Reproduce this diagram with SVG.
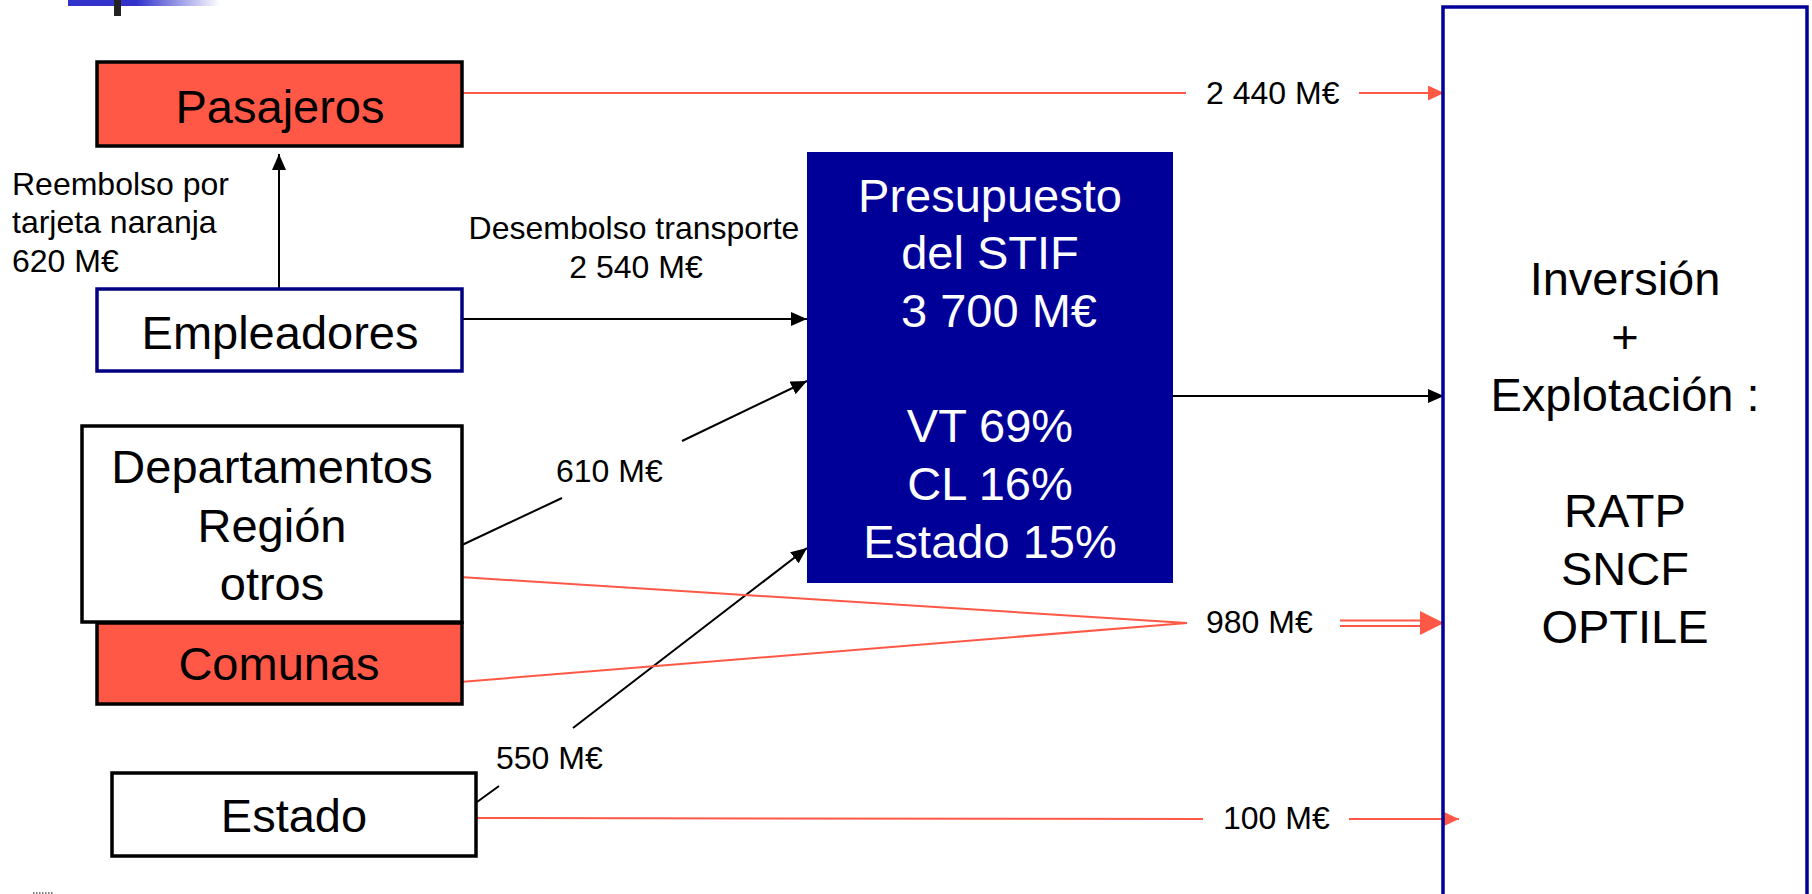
<svg xmlns="http://www.w3.org/2000/svg" width="1812" height="894" viewBox="0 0 1812 894">
<style>
text{font-family:"Liberation Sans",Arial,sans-serif;fill:#000}
.big{font-size:47px}
.mid{font-size:32px}
.w{fill:#fff}
.red{fill:#FF5846}
.k{stroke:#000;stroke-width:2;fill:none}
.r{stroke:#FF5846;stroke-width:2;fill:none}
</style>
<defs>
<linearGradient id="gb" x1="0" x2="1" y1="0" y2="0">
<stop offset="0" stop-color="#3333CC"/>
<stop offset="0.45" stop-color="#3333CC"/>
<stop offset="1" stop-color="#3333CC" stop-opacity="0"/>
</linearGradient>
<marker id="ak" markerUnits="userSpaceOnUse" markerWidth="16" markerHeight="14" refX="16" refY="7" orient="auto">
<path d="M0,0 L16,7 L0,14 z" fill="#000"/>
</marker>
<marker id="ar" markerUnits="userSpaceOnUse" markerWidth="16" markerHeight="15" refX="16" refY="7.5" orient="auto">
<path d="M0,0 L16,7.5 L0,15 z" fill="#FF5846"/>
</marker>
</defs>

<g id="decor">
<rect x="68" y="0" width="152" height="6" fill="url(#gb)"/>
<rect x="114" y="0" width="7" height="16" fill="#222"/>
<line x1="33" y1="893" x2="53" y2="893" stroke="#000" stroke-width="1" stroke-dasharray="1.5,1.5"/>
</g>

<g id="connectors">
<line class="k" x1="279" y1="290" x2="279" y2="154" marker-end="url(#ak)"/>
<line class="r" x1="462" y1="93" x2="1186" y2="93"/>
<line class="r" x1="1359" y1="93" x2="1444" y2="93" marker-end="url(#ar)"/>
<line class="k" x1="462" y1="319" x2="807" y2="319" marker-end="url(#ak)"/>
<line class="k" x1="462" y1="545" x2="562" y2="498"/>
<line class="k" x1="682" y1="441" x2="807" y2="381" marker-end="url(#ak)"/>
<line class="k" x1="477" y1="802" x2="499" y2="786"/>
<line class="k" x1="573" y1="728" x2="807" y2="548" marker-end="url(#ak)"/>
<line class="k" x1="1173" y1="396" x2="1444" y2="396" marker-end="url(#ak)"/>
<line class="r" x1="460" y1="577" x2="1187" y2="623"/>
<line class="r" x1="460" y1="682" x2="1187" y2="623"/>
<line class="r" x1="1340" y1="620.5" x2="1422" y2="620.5"/>
<line class="r" x1="1340" y1="626" x2="1422" y2="626"/>
<polygon points="1420,611 1444,623 1420,635" fill="#FF5846"/>
<line class="r" x1="477" y1="818" x2="1203" y2="819"/>
<line class="r" x1="1349" y1="819" x2="1459" y2="819" marker-end="url(#ar)"/>
</g>

<g id="labels">
<text class="mid" x="12" y="195">Reembolso por</text>
<text class="mid" x="12" y="233">tarjeta naranja</text>
<text class="mid" x="12" y="272">620 M€</text>
<text class="mid" x="634" y="239" text-anchor="middle">Desembolso transporte</text>
<text class="mid" x="636" y="278" text-anchor="middle">2 540 M€</text>
<text class="mid" x="556" y="482">610 M€</text>
<text class="mid" x="496" y="769">550 M€</text>
<text class="mid" x="1206" y="104">2 440 M€</text>
<text class="mid" x="1206" y="633">980 M€</text>
<text class="mid" x="1223" y="829">100 M€</text>
</g>

<g id="pasajeros">
<rect x="97" y="62" width="365" height="84" class="red" stroke="#000" stroke-width="3.5"/>
<text class="big" x="280" y="123" text-anchor="middle">Pasajeros</text>
</g>

<g id="empleadores">
<rect x="97" y="289" width="365" height="82" fill="#fff" stroke="#000080" stroke-width="3.5"/>
<text class="big" x="280" y="349" text-anchor="middle">Empleadores</text>
</g>

<g id="comunas">
<rect x="97" y="623" width="365" height="81" class="red" stroke="#000" stroke-width="3.5"/>
<text class="big" x="279" y="680" text-anchor="middle">Comunas</text>
</g>

<g id="departamentos">
<rect x="82" y="426" width="380" height="196" fill="#fff" stroke="#000" stroke-width="3.5"/>
<text class="big" x="272" y="483" text-anchor="middle">Departamentos</text>
<text class="big" x="272" y="542" text-anchor="middle">Región</text>
<text class="big" x="272" y="600" text-anchor="middle">otros</text>
</g>

<g id="estado">
<rect x="112" y="773" width="364" height="83" fill="#fff" stroke="#000" stroke-width="3.5"/>
<text class="big" x="294" y="832" text-anchor="middle">Estado</text>
</g>

<g id="stif">
<rect x="807" y="152" width="366" height="431" fill="#000099"/>
<text class="big w" x="990" y="212" text-anchor="middle">Presupuesto</text>
<text class="big w" x="990" y="269" text-anchor="middle">del STIF</text>
<text class="big w" x="999" y="327" text-anchor="middle">3 700 M€</text>
<text class="big w" x="990" y="442" text-anchor="middle">VT 69%</text>
<text class="big w" x="990" y="500" text-anchor="middle">CL 16%</text>
<text class="big w" x="990" y="558" text-anchor="middle">Estado 15%</text>
</g>

<g id="operadores">
<rect x="1443" y="7" width="364" height="900" fill="none" stroke="#000099" stroke-width="3.5"/>
<text class="big" x="1625" y="295" text-anchor="middle">Inversión</text>
<text class="big" x="1625" y="353" text-anchor="middle">+</text>
<text class="big" x="1625" y="411" text-anchor="middle">Explotación :</text>
<text class="big" x="1625" y="527" text-anchor="middle">RATP</text>
<text class="big" x="1625" y="585" text-anchor="middle">SNCF</text>
<text class="big" x="1625" y="643" text-anchor="middle">OPTILE</text>
</g>
</svg>
